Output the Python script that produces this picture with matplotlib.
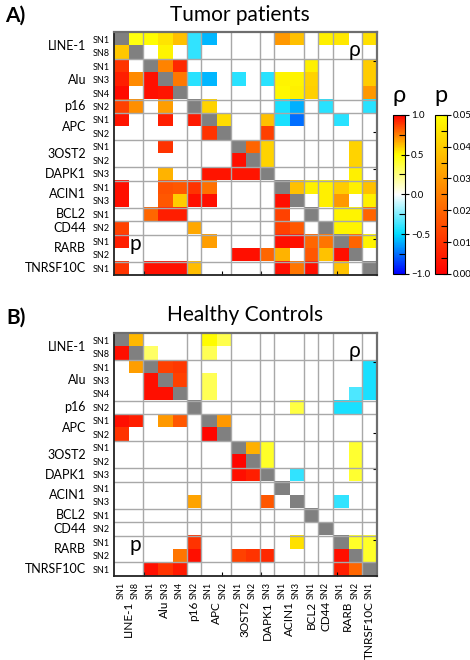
import numpy as np
import matplotlib
matplotlib.use("Agg")
import matplotlib.pyplot as plt
from matplotlib.colors import LinearSegmentedColormap, ListedColormap
from matplotlib.cm import ScalarMappable
from matplotlib.colors import Normalize
import matplotlib.transforms as mtransforms

plt.rcParams["font.family"] = ["Lato", "DejaVu Sans"]

genes = ["LINE-1", "Alu", "p16", "APC", "3OST2", "DAPK1", "ACIN1",
         "BCL2", "CD44", "RARB", "TNRSF10C"]
gene_sites = [["SN1", "SN8"], ["SN1", "SN3", "SN4"], ["SN2"], ["SN1", "SN2"],
              ["SN1", "SN2"], ["SN3"], ["SN1", "SN3"], ["SN1"], ["SN2"],
              ["SN1", "SN2"], ["SN1"]]

# (row, col, rho) above the diagonal, (row, col, p) below it
tumor_rho = [
    (0, 1, 0.47), (0, 2, 0.5), (0, 3, 0.55), (0, 4, 0.62), (0, 5, -0.4), (0, 6, -0.58),
    (0, 11, 0.7), (0, 12, 0.62), (0, 14, 0.53), (0, 15, 0.54), (0, 17, 0.56),
    (1, 3, 0.52), (1, 5, -0.4),
    (2, 3, 0.74), (2, 4, 0.92), (2, 13, 0.53), (2, 17, 0.6),
    (3, 4, 0.76), (3, 5, -0.42), (3, 6, -0.58), (3, 8, -0.42), (3, 10, -0.42),
    (3, 11, 0.52), (3, 12, 0.52), (3, 13, 0.58), (3, 17, 0.6),
    (4, 11, 0.51), (4, 12, 0.53), (4, 13, 0.59), (4, 17, 0.7),
    (5, 6, 0.58), (5, 11, -0.45), (5, 12, -0.6), (5, 14, -0.42), (5, 17, -0.42),
    (6, 7, 0.57), (6, 10, 0.62), (6, 11, -0.45), (6, 12, -0.75), (6, 15, -0.42),
    (7, 10, 0.87),
    (8, 9, 0.8), (8, 10, 0.58), (8, 16, 0.58),
    (9, 10, 0.58), (9, 16, 0.58),
    (10, 16, 0.53),
    (11, 12, 0.62), (11, 13, 0.53), (11, 14, 0.53), (11, 15, 0.6), (11, 16, 0.53), (11, 17, 0.62),
    (12, 14, 0.53), (12, 15, 0.7), (12, 17, 0.53),
    (13, 15, 0.52), (13, 16, 0.52), (13, 17, 0.8),
    (14, 15, 0.52), (14, 16, 0.52),
    (15, 16, 0.8), (15, 17, 0.52),
]
tumor_p = [
    (1, 0, 0.039),
    (2, 0, 0.01),
    (3, 0, 0.006), (3, 1, 0.027), (3, 2, 0.003),
    (4, 0, 0.002), (4, 2, 0.003), (4, 3, 0.004),
    (5, 0, 0.013), (5, 1, 0.028), (5, 3, 0.031),
    (6, 0, 0.004), (6, 3, 0.006), (6, 5, 0.005),
    (7, 6, 0.01),
    (8, 3, 0.01),
    (9, 8, 0.003),
    (10, 3, 0.035), (10, 6, 0.004), (10, 7, 0.004), (10, 8, 0.004), (10, 9, 0.004),
    (11, 0, 0.003), (11, 3, 0.016), (11, 4, 0.017), (11, 5, 0.01), (11, 6, 0.022),
    (12, 0, 0.003), (12, 3, 0.017), (12, 4, 0.04), (12, 5, 0.003), (12, 6, 0.003), (12, 11, 0.003),
    (13, 2, 0.02), (13, 3, 0.006), (13, 4, 0.006), (13, 11, 0.013),
    (14, 0, 0.013), (14, 5, 0.033), (14, 11, 0.013), (14, 12, 0.017),
    (15, 0, 0.006), (15, 6, 0.031), (15, 11, 0.003), (15, 12, 0.003), (15, 13, 0.02), (15, 14, 0.023),
    (16, 8, 0.003), (16, 9, 0.003), (16, 10, 0.02), (16, 11, 0.035), (16, 13, 0.017),
    (16, 14, 0.038), (16, 15, 0.003),
    (17, 0, 0.01), (17, 2, 0.003), (17, 3, 0.003), (17, 4, 0.003), (17, 5, 0.037),
    (17, 11, 0.003), (17, 12, 0.023), (17, 13, 0.003), (17, 15, 0.038),
]
healthy_rho = [
    (0, 1, 0.64), (0, 6, 0.5), (0, 7, 0.35),
    (1, 2, 0.3), (1, 6, 0.33),
    (2, 3, 0.87), (2, 4, 0.89), (2, 17, -0.45),
    (3, 4, 0.87), (3, 6, 0.33), (3, 17, -0.45),
    (4, 6, 0.33), (4, 16, -0.35), (4, 17, -0.45),
    (5, 12, 0.37), (5, 15, -0.45), (5, 16, -0.45),
    (6, 7, 0.7),
    (8, 9, 0.65), (8, 10, 0.42), (8, 16, 0.4),
    (9, 10, 0.42), (9, 16, 0.4),
    (10, 12, -0.4), (10, 16, 0.4),
    (12, 15, -0.4),
    (15, 16, 0.42), (15, 17, 0.42),
    (16, 17, 0.42),
]
healthy_p = [
    (1, 0, 0.003),
    (2, 1, 0.031),
    (3, 2, 0.003),
    (4, 2, 0.003), (4, 3, 0.003),
    (6, 0, 0.003), (6, 1, 0.006), (6, 3, 0.03), (6, 4, 0.017),
    (7, 0, 0.01), (7, 6, 0.001),
    (9, 8, 0.001),
    (10, 8, 0.003), (10, 9, 0.006),
    (12, 5, 0.032), (12, 10, 0.017),
    (15, 5, 0.01), (15, 12, 0.044),
    (16, 4, 0.023), (16, 5, 0.003), (16, 8, 0.013), (16, 9, 0.01), (16, 10, 0.008), (16, 15, 0.003),
    (17, 2, 0.003), (17, 3, 0.01), (17, 4, 0.005), (17, 15, 0.006), (17, 16, 0.02),
]

# leftover tick marks seen on the right and bottom edges
stray_ticks = [1.6, 6.9, 9.6, 14.8]

rho_cmap = LinearSegmentedColormap.from_list(
    "rho", [(0.0, "#0000ff"), (0.25, "#00ddff"), (0.5, "#ffffff"),
            (0.75, "#ffff00"), (1.0, "#ff0000")])
p_cmap = LinearSegmentedColormap.from_list("p", ["#ff0000", "#ffff00"])
diag_cmap = ListedColormap(["#808080"])

site_labels = [s for sites in gene_sites for s in sites]
n = len(site_labels)
sizes = [len(s) for s in gene_sites]
edges = np.cumsum(sizes)
centers = edges - np.array(sizes) / 2 - 0.5


def to_matrix(vals):
    m = np.full((n, n), np.nan)
    for r, c, v in vals:
        m[r, c] = v
    return np.ma.masked_invalid(m)


def draw_panel(ax, rho_vals, p_vals, xlabels):
    ext = (-0.5, n - 0.5, n - 0.5, -0.5)
    kw = dict(extent=ext, aspect="auto", interpolation="nearest")
    ax.imshow(to_matrix(rho_vals), cmap=rho_cmap, vmin=-1, vmax=1, **kw)
    ax.imshow(to_matrix(p_vals), cmap=p_cmap, vmin=0, vmax=0.05, **kw)
    ax.imshow(np.ma.masked_invalid(np.where(np.eye(n) > 0, 1.0, np.nan)),
              cmap=diag_cmap, **kw)
    ax.set_xlim(-0.5, n - 0.5)
    ax.set_ylim(n - 0.5, -0.5)

    for e in edges[:-1]:
        ax.axhline(e - 0.5, color="#a8a8a8", lw=1.0)
        ax.axvline(e - 0.5, color="#a8a8a8", lw=1.0)

    for side in ("left", "bottom"):
        ax.spines[side].set_color("#222222")
        ax.spines[side].set_linewidth(1.3)
    for side in ("top", "right"):
        ax.spines[side].set_color("#6e6e6e")
        ax.spines[side].set_linewidth(1.6)

    ax.set_yticks(range(n))
    ax.set_yticklabels(site_labels, fontsize=6.5)
    ax.tick_params(axis="y", which="major", length=0, pad=3)
    ax.set_yticks(stray_ticks, minor=True)
    ax.tick_params(axis="y", which="minor", left=False, right=True,
                   direction="in", length=3, width=0.8)

    ax.set_xticks(range(n))
    ax.tick_params(axis="x", which="major", length=0, pad=4)
    ax.set_xticks(stray_ticks, minor=True)
    ax.tick_params(axis="x", which="minor", direction="in", length=3, width=0.8)
    if xlabels:
        ax.set_xticklabels(site_labels, fontsize=6.5, rotation=90)
    else:
        ax.set_xticklabels([])

    ty = mtransforms.blended_transform_factory(ax.transAxes, ax.transData)
    for g, c in zip(genes, centers):
        ax.text(-0.105, c, g, transform=ty, ha="right", va="center", fontsize=9)
    if xlabels:
        tx = mtransforms.blended_transform_factory(ax.transData, ax.transAxes)
        for g, c in zip(genes, centers):
            ax.text(c, -0.103, g, transform=tx, ha="center", va="top",
                    rotation=90, fontsize=8.5)

    ax.text(16.0, 0.8, "ρ", ha="center", va="center", fontsize=15)
    ax.text(1.0, 15.2, "p", ha="center", va="center", fontsize=15)


fig = plt.figure(figsize=(4.7, 6.6), dpi=100)
ax_a = fig.add_axes([0.242, 0.5833, 0.5596, 0.3677])
ax_b = fig.add_axes([0.242, 0.1273, 0.5596, 0.3677])
draw_panel(ax_a, tumor_rho, tumor_p, xlabels=False)
draw_panel(ax_b, healthy_rho, healthy_p, xlabels=True)

fig.text(0.032, 0.977, "A)", fontsize=15, fontweight="bold", ha="center", va="center")
fig.text(0.511, 0.978, "Tumor patients", fontsize=15, ha="center", va="center")
fig.text(0.034, 0.518, "B)", fontsize=15, fontweight="bold", ha="center", va="center")
fig.text(0.521, 0.523, "Healthy Controls", fontsize=15, ha="center", va="center")

# colour bars
cax_r = fig.add_axes([0.837, 0.585, 0.0255, 0.241])
cb_r = fig.colorbar(ScalarMappable(Normalize(-1, 1), rho_cmap), cax=cax_r)
cb_r.set_ticks([-1.0, -0.5, 0.0, 0.5, 1.0])
cb_r.set_ticklabels(["\u22121.0", "\u22120.5", "0.0", "0.5", "1.0"])
cb_r.set_ticks([-0.75, -0.25, 0.25, 0.75], minor=True)

cax_p = fig.add_axes([0.9255, 0.585, 0.0255, 0.241])
cb_p = fig.colorbar(ScalarMappable(Normalize(0, 0.05), p_cmap), cax=cax_p)
cb_p.set_ticks([0.0, 0.01, 0.02, 0.03, 0.04, 0.05])
cb_p.set_ticklabels(["0.00", "0.01", "0.02", "0.03", "0.04", "0.05"])
cb_p.set_ticks([0.005, 0.015, 0.025, 0.035, 0.045], minor=True)

for cb in (cb_r, cb_p):
    cb.ax.tick_params(which="major", direction="inout", length=6, width=0.8,
                      labelsize=7, pad=1)
    cb.ax.tick_params(which="minor", direction="in", length=4, width=0.8)
    cb.outline.set_linewidth(0.8)

fig.text(0.849, 0.856, "ρ", fontsize=17, ha="center", va="center")
fig.text(0.938, 0.856, "p", fontsize=17, ha="center", va="center")

fig.savefig("out.png", dpi=100)
